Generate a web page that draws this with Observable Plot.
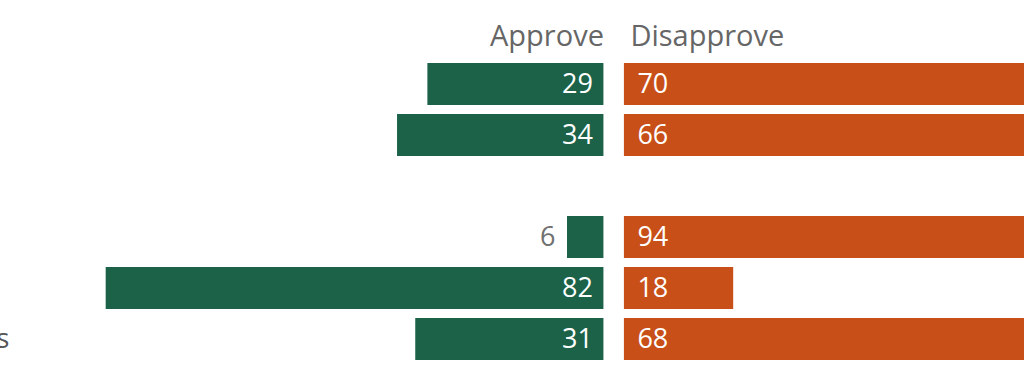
<!DOCTYPE html>
<html><head><meta charset="utf-8">
<script src="https://cdn.jsdelivr.net/npm/d3@7"></script>
<script src="https://cdn.jsdelivr.net/npm/@observablehq/plot@0.6"></script>
<style>body{margin:0;overflow:hidden;background:#fff}</style>
</head><body><div id="chart"></div>
<script>
const categories = ["Total", "Voters", "Group", "Democrats", "Republicans", "Independents"];
const approve = [29, 34, null, 6, 82, 31];
const disapprove = [70, 66, null, 94, 18, 68];
const columnLabels = ["Approve", "Disapprove"];
const HEADER = "header";

const rows = categories.map((c, i) => ({cat: c, label: i === 2 ? "" : c, approve: approve[i], disapprove: disapprove[i]}));
const bars = rows.filter(d => d.approve != null);
const GAP = 10.25;
const FS = 27;
const HFS = 29;

const plot = Plot.plot({
  width: 1024, height: 384,
  marginLeft: 0, marginRight: 0, marginTop: 6, marginBottom: 17,
  x: {domain: [-101.1, 67.6], axis: null},
  y: {domain: [HEADER, ...categories], paddingInner: 0.167, paddingOuter: 0.0835, axis: null},
  style: {fontFamily: "'Open Sans', sans-serif", background: "#fff", overflow: "hidden"},
  marks: [
    Plot.barX(bars, {y: "cat", x1: 0, x2: d => -d.approve, dx: -GAP, fill: "#1b6249", clip: true}),
    Plot.barX(bars, {y: "cat", x1: 0, x2: "disapprove", dx: GAP, fill: "#c84f17", clip: true}),
    Plot.text(bars.filter(d => d.approve >= 10), {y: "cat", x: 0, text: d => String(d.approve), textAnchor: "end", dx: -GAP - 11, fill: "white", fontSize: FS}),
    Plot.text(bars.filter(d => d.approve < 10), {y: "cat", x: d => -d.approve, text: d => String(d.approve), textAnchor: "end", dx: -GAP - 12, fill: "#707070", fontSize: FS}),
    Plot.text(bars, {y: "cat", x: 0, text: d => String(d.disapprove), textAnchor: "start", dx: GAP + 13, fill: "white", fontSize: FS}),
    Plot.text([{label: columnLabels[0], row: HEADER}], {y: "row", x: 0, text: "label", textAnchor: "end", dx: -GAP, dy: 3, fill: "#666", fontSize: HFS}),
    Plot.text([{label: columnLabels[1], row: HEADER}], {y: "row", x: 0, text: "label", textAnchor: "start", dx: GAP + 6, dy: 3, fill: "#666", fontSize: HFS}),
    Plot.text(rows, {y: "cat", frameAnchor: "left", text: "label", textAnchor: "start", dx: -166, fill: "#555", fontSize: FS})
  ]
});
document.getElementById("chart").append(plot);
</script>
</body></html>
